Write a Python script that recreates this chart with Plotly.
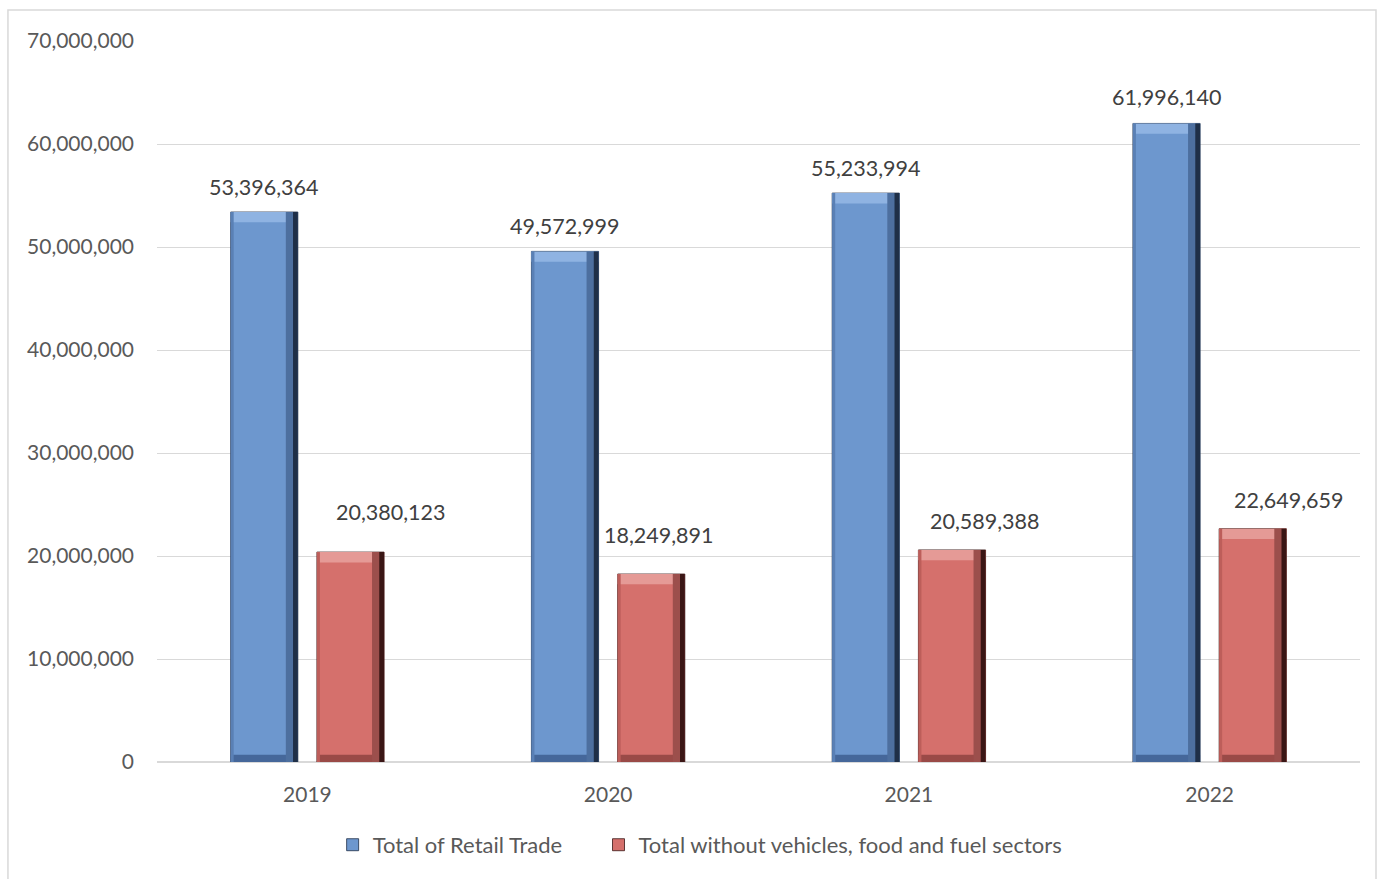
import plotly.graph_objects as go

years = ["2019", "2020", "2021", "2022"]
total_retail = [53396364, 49572999, 55233994, 61996140]
total_without = [20380123, 18249891, 20589388, 22649659]
series_names = ["Total of Retail Trade", "Total without vehicles, food and fuel sectors"]

# style / positioning (not data)
x = list(range(len(years)))
W = 0.2233
OFF_BLUE = -0.255
OFF_RED = 0.0317
TOP = 1.0e6     # bevel height in data units
BOT = 0.7e6
RW1 = 0.04      # outer right bevel (medium dark)
RW2 = 0.016     # inner right edge (dark)
LW = 0.01

blue = dict(main="#6d97ce", top="#8fb3e2", r1="#4d6f9f", r2="#1f2f47", left="#5a80b5", bot="#45679a")
red = dict(main="#d5706c", top="#e59a96", r1="#9c4f4c", r2="#3a1615", left="#bd5e5a", bot="#9a4a47")

fig = go.Figure()

def add_bar(vals, off, col, name, legend):
    n = len(vals)
    fig.add_trace(go.Bar(x=x, y=vals, offset=off, width=W, name=name, legend=legend,
                         marker=dict(color=col["main"], line=dict(width=0.8, color=col["r2"])),
                         showlegend=True, hoverinfo="skip"))
    fig.add_trace(go.Bar(x=x, y=[BOT] * n, base=[0] * n, offset=off, width=W,
                         marker=dict(color=col["bot"], line=dict(width=0)), showlegend=False, hoverinfo="skip"))
    fig.add_trace(go.Bar(x=x, y=[TOP] * n, base=[v - TOP for v in vals], offset=off, width=W,
                         marker=dict(color=col["top"], line=dict(width=0)), showlegend=False, hoverinfo="skip"))
    fig.add_trace(go.Bar(x=x, y=vals, offset=off, width=LW,
                         marker=dict(color=col["left"], line=dict(width=0)), showlegend=False, hoverinfo="skip"))
    fig.add_trace(go.Bar(x=x, y=vals, offset=off + W - RW1, width=RW1,
                         marker=dict(color=col["r1"], line=dict(width=0)), showlegend=False, hoverinfo="skip"))
    fig.add_trace(go.Bar(x=x, y=vals, offset=off + W - RW2, width=RW2,
                         marker=dict(color=col["r2"], line=dict(width=0)), showlegend=False, hoverinfo="skip"))

add_bar(total_retail, OFF_BLUE, blue, series_names[0], "legend")
add_bar(total_without, OFF_RED, red, series_names[1], "legend2")

font_family = "Lato, 'Open Sans', sans-serif"
txt_color = "#595959"

blue_yshift = [25, 25, 25, 26]
red_xshift = [41, 8, 33, 36]
red_yshift = [40, 39, 29, 29]

for i, v in enumerate(total_retail):
    fig.add_annotation(x=x[i] + OFF_BLUE + W / 2, y=v, text=f"{v:,}", showarrow=False,
                       yshift=blue_yshift[i], font=dict(size=21.5, color="#404040", family=font_family))
for i, v in enumerate(total_without):
    fig.add_annotation(x=x[i] + OFF_RED + W / 2, y=v, text=f"{v:,}", showarrow=False,
                       xshift=red_xshift[i], yshift=red_yshift[i],
                       font=dict(size=21.5, color="#404040", family=font_family))

# outer chart border
fig.add_shape(type="rect", xref="paper", yref="paper", x0=-0.1239, x1=1.0133, y0=-0.25, y1=1.043,
              line=dict(color="#d9d9d9", width=1.5), fillcolor="rgba(0,0,0,0)", layer="below")

legend_common = dict(orientation="h", xanchor="left", y=-0.115, yanchor="middle",
                     font=dict(size=22, color=txt_color), itemwidth=30, tracegroupgap=0,
                     bgcolor="rgba(0,0,0,0)")

fig.update_layout(
    width=1378, height=879,
    margin=dict(l=157, r=18, t=41, b=117),
    barmode="overlay",
    plot_bgcolor="white", paper_bgcolor="white",
    font=dict(family=font_family, color=txt_color, size=21),
    showlegend=True,
    legend=dict(x=0.146, **legend_common),
    legend2=dict(x=0.367, **legend_common),
    xaxis=dict(tickmode="array", tickvals=x, ticktext=years, range=[-0.5, 3.5],
               showgrid=False, showline=False, zeroline=False, ticks="",
               ticklabelstandoff=18, tickfont=dict(size=21, color=txt_color)),
    yaxis=dict(range=[0, 70000000], dtick=10000000, tickformat=",d",
               showgrid=True, gridcolor="#d9d9d9", gridwidth=1.3,
               zeroline=True, zerolinecolor="#d9d9d9", zerolinewidth=1.5,
               showline=False, ticks="", ticklabelstandoff=22,
               tickfont=dict(size=21, color=txt_color)),
)

fig.write_html("out.html")
